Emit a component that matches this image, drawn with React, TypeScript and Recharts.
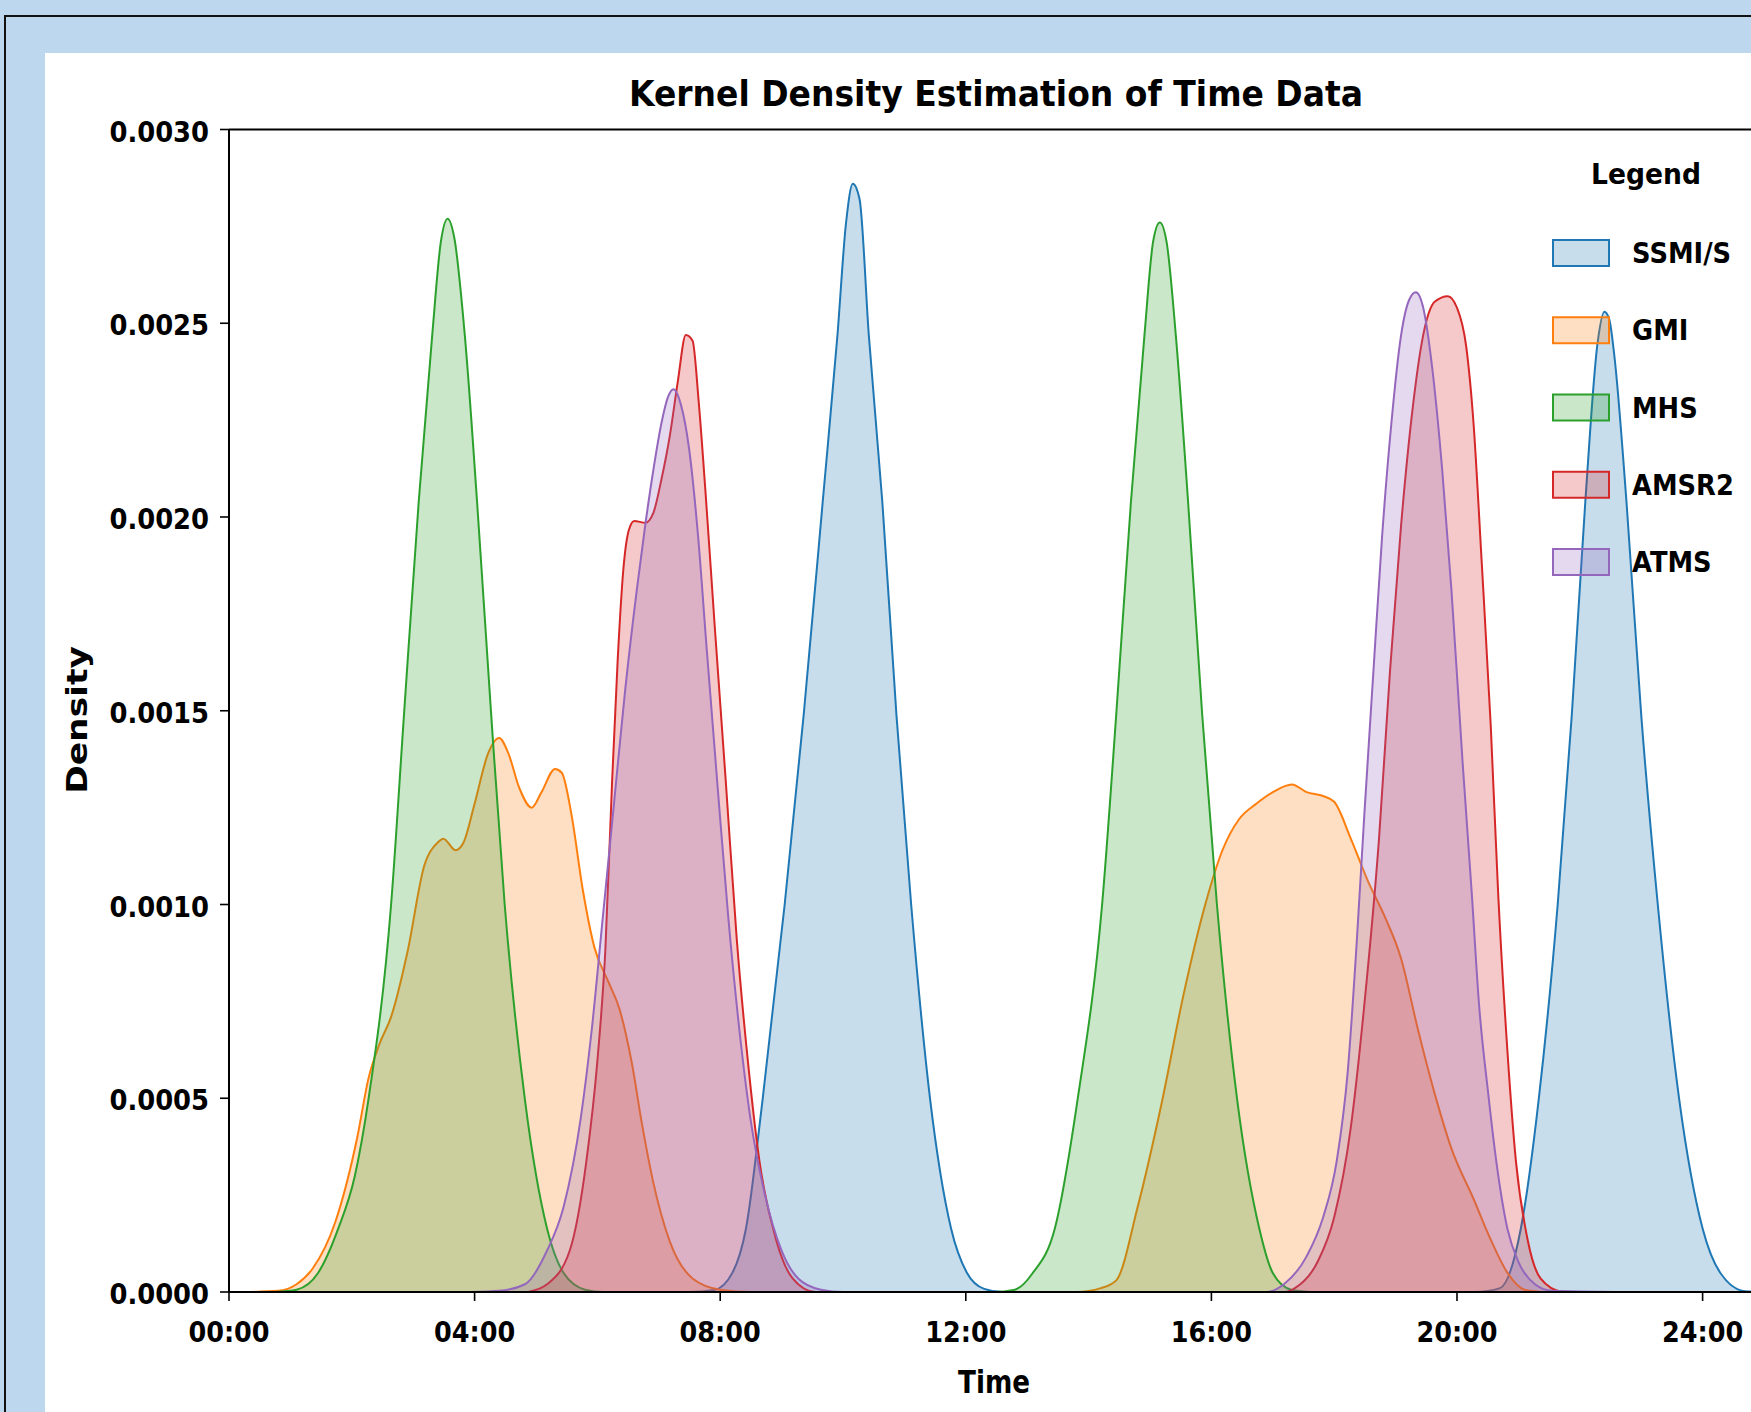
import { AreaChart, Area, XAxis, YAxis, ReferenceLine } from 'recharts';

const FONT = '"DejaVu Sans", Verdana, sans-serif';

const seriesNames = ['SSMI/S', 'GMI', 'MHS', 'AMSR2', 'ATMS'];
const seriesColors = ['#1f77b4', '#ff7f0e', '#2ca02c', '#d62728', '#9467bd'];

const hourTicks = [0, 4, 8, 12, 16, 20, 24];
const densityTicks = [0, 0.0005, 0.001, 0.0015, 0.002, 0.0025, 0.003];

// densities below are in units of 1e-4, x in hours of day
const ssmisHours = [0, 7.5, 7.9, 8.2, 8.42, 8.69, 9.05, 9.36, 9.67, 9.91, 10.05, 10.16, 10.27, 10.42, 10.64, 10.87, 11.11, 11.42, 11.76, 12.02, 12.3, 12.6,
  20.3, 20.7, 21.04, 21.33, 21.64, 21.87, 22.09, 22.29, 22.4, 22.48, 22.56, 22.76, 23.0, 23.27, 23.62, 24.0, 24.29, 24.69, 25];
const ssmisDensity = [0, 0, 0.05, 0.5, 1.64, 4.96, 10.0, 14.9, 20.4, 24.7, 27.6, 28.6, 28.2, 24.7, 20.4, 14.9, 10.0, 4.96, 1.64, 0.49, 0.08, 0,
  0, 0.1, 1.64, 4.96, 10.0, 14.9, 20.4, 24.5, 25.3, 25.1, 24.2, 20.4, 14.9, 10.0, 4.96, 1.64, 0.49, 0.02, 0];

const gmiHours = [0.35, 0.8, 1.1, 1.36, 1.73, 2.09, 2.27, 2.45, 2.64, 2.91, 3.18, 3.4, 3.49, 3.69, 3.82, 4.0, 4.22, 4.4, 4.55, 4.73, 4.93, 5.09, 5.31, 5.42, 5.58,
  5.76, 5.95, 6.18, 6.36, 6.55, 6.73, 6.9, 7.18, 7.55, 8.0, 8.5,
  13.8, 14.2, 14.45, 14.8, 15.18, 15.55, 15.9, 16.18, 16.45, 16.73, 17.0, 17.31, 17.55, 17.82, 18.0, 18.27, 18.55, 18.82, 19.09, 19.36, 19.64,
  19.91, 20.27, 20.55, 20.82, 21.1, 21.4];
const gmiDensity = [0, 0.03, 0.2, 0.6, 1.8, 4.0, 5.5, 6.4, 7.1, 8.8, 11.0, 11.6, 11.7, 11.4, 11.6, 12.6, 13.9, 14.3, 13.9, 13.0, 12.5, 12.9, 13.5, 13.4, 12.3,
  10.4, 8.9, 8.0, 7.3, 6.0, 4.3, 2.9, 1.3, 0.35, 0.06, 0,
  0, 0.1, 0.3, 2.2, 4.8, 7.7, 10.0, 11.4, 12.2, 12.6, 12.9, 13.1, 12.9, 12.8, 12.65, 11.7, 10.6, 9.7, 8.6, 6.8, 5.1,
  3.7, 2.4, 1.35, 0.5, 0.06, 0];

const mhsHours = [0.75, 1.1, 1.45, 1.78, 2.05, 2.27, 2.64, 2.85, 3.09, 3.31, 3.45, 3.56, 3.67, 3.84, 4.04, 4.27, 4.49, 4.82, 5.18, 5.45, 5.8, 6.1,
  12.45, 12.8, 13.09, 13.45, 13.82, 14.22, 14.45, 14.69, 14.91, 15.05, 15.16, 15.27, 15.42, 15.62, 15.85, 16.09, 16.42, 16.78, 17.0, 17.3, 17.6];
const mhsDensity = [0, 0.06, 0.49, 1.64, 3.0, 4.96, 10.0, 14.9, 20.4, 24.7, 27.1, 27.7, 27.2, 24.7, 20.4, 14.9, 10.0, 4.96, 1.64, 0.49, 0.06, 0,
  0, 0.06, 0.49, 1.64, 4.96, 10.0, 14.9, 20.4, 24.7, 27.1, 27.6, 27.1, 24.7, 20.4, 14.9, 10.0, 4.96, 1.64, 0.49, 0.06, 0];

const amsr2Hours = [4.87, 5.18, 5.55, 5.82, 6.0, 6.13, 6.24, 6.33, 6.42, 6.51, 6.6, 6.78, 6.91, 7.04, 7.18, 7.31, 7.44, 7.55, 7.65, 7.76, 7.91, 8.09, 8.27,
  8.45, 8.64, 8.91, 9.18, 9.55,
  17.2, 17.36, 17.73, 18.0, 18.27, 18.49, 18.73, 18.91, 19.09, 19.27, 19.45, 19.64, 19.85, 20.0, 20.15, 20.27, 20.4, 20.55, 20.67, 20.82, 20.96,
  21.15, 21.36, 21.7];
const amsr2Density = [0, 0.2, 1.07, 3.37, 5.97, 8.85, 13.2, 16.3, 18.6, 19.65, 19.9, 19.85, 20.1, 20.95, 22.1, 23.5, 24.7, 24.55, 22.97, 20.66, 17.2, 13.2, 9.1,
  5.97, 3.37, 1.35, 0.35, 0,
  0, 0.1, 0.78, 1.93, 4.24, 7.4, 11.7, 16.05, 19.8, 22.7, 24.7, 25.56, 25.7, 25.4, 24.4, 22.4, 18.9, 14.6, 10.3, 6.25, 3.37,
  1.35, 0.35, 0];

const atmsHours = [3.94, 4.4, 4.82, 5.18, 5.45, 5.73, 5.91, 6.09, 6.27, 6.45, 6.64, 6.78, 6.91, 7.04, 7.15, 7.24, 7.36, 7.49, 7.64, 7.78, 7.95, 8.13, 8.31,
  8.49, 8.73, 9.0, 9.27, 9.64, 10.0,
  16.9, 17.18, 17.55, 17.82, 18.04, 18.22, 18.36, 18.49, 18.64, 18.78, 18.93, 19.09, 19.22, 19.33, 19.45, 19.6, 19.76, 19.91, 20.09, 20.24,
  20.36, 20.51, 20.64, 20.82, 21.0, 21.27, 21.55, 22.6];
const atmsDensity = [0, 0.03, 0.2, 1.07, 2.2, 4.5, 6.8, 9.7, 12.6, 15.5, 18.1, 19.8, 21.2, 22.4, 23.1, 23.3, 22.9, 21.8, 19.5, 16.6, 13.2, 9.7, 6.8,
  4.5, 2.5, 1.07, 0.35, 0.06, 0,
  0, 0.2, 0.92, 1.93, 3.37, 5.68, 8.85, 12.3, 16.05, 19.5, 22.4, 24.7, 25.6, 25.8, 25.4, 23.8, 21.2, 18.1, 13.7, 10.3,
  7.4, 5.1, 3.37, 1.64, 0.78, 0.2, 0.03, 0];

const toPoints = (hours: number[], dens: number[]) => hours.map((h, i) => ({ h, d: dens[i] * 1e-4 }));

const seriesData = [
  toPoints(ssmisHours, ssmisDensity),
  toPoints(gmiHours, gmiDensity),
  toPoints(mhsHours, mhsDensity),
  toPoints(amsr2Hours, amsr2Density),
  toPoints(atmsHours, atmsDensity),
];

const fmtHour = (h: number) => `${String(h).padStart(2, '0')}:00`;

function HourTick({ x, y, payload }: any) {
  return (
    <text transform={`translate(${x},${y}) scale(0.88,1)`} textAnchor="middle" dy={39}
      fontSize={29} fontWeight="bold" fontFamily={FONT} fill="#000">
      {fmtHour(payload.value)}
    </text>
  );
}

function DensityTick({ x, y, payload }: any) {
  return (
    <text transform={`translate(${x},${y}) scale(0.89,1)`} textAnchor="end" dy={12}
      fontSize={29} fontWeight="bold" fontFamily={FONT} fill="#000">
      {Number(payload.value).toFixed(4)}
    </text>
  );
}

function Overlay() {
  const txt = { fontFamily: FONT, fontWeight: 'bold' as const, fill: '#000' };
  return (
    <svg width={1751} height={1412} style={{ position: 'absolute', left: 0, top: 0, pointerEvents: 'none' }}>
      <text transform="translate(996,106) scale(1,1.05)" textAnchor="middle" fontSize={33} {...txt}>Kernel Density Estimation of Time Data</text>
      <text transform="translate(994,1393) scale(0.82,1)" textAnchor="middle" fontSize={32} {...txt}>Time</text>
      <text transform="translate(87,720) rotate(-90) scale(1.23,1)" textAnchor="middle" fontSize={28} {...txt}>Density</text>
      <text transform="translate(1646,184) scale(0.95,1)" textAnchor="middle" fontSize={28} {...txt}>Legend</text>
      {seriesNames.map((name, i) => {
        const cy = 253 + i * 77.25;
        return (
          <g key={name}>
            <rect x={1553} y={cy - 13} width={56} height={26} fill={seriesColors[i]} fillOpacity={0.25}
              stroke={seriesColors[i]} strokeWidth={2} />
            <text transform={`translate(1632,${cy + 10}) scale(0.92,1)`} fontSize={28} {...txt}>{name}</text>
          </g>
        );
      })}
    </svg>
  );
}

export default function App() {
  return (
    <div style={{ position: 'fixed', left: 0, top: 0, width: 1751, height: 1412, overflow: 'hidden', background: '#bdd7ee' }}>
      <div style={{ position: 'absolute', left: 4, top: 15, width: 1800, height: 1500, borderLeft: '2.5px solid #111', borderTop: '2.5px solid #111' }} />
      <div style={{ position: 'absolute', left: 45, top: 53, width: 1800, height: 1500, background: '#fff' }} />
      <div style={{ position: 'absolute', left: 0, top: 0 }}>
        <AreaChart width={1800} height={1412} margin={{ top: 129.5, right: 36, bottom: 60, left: 129 }}>
          <XAxis type="number" dataKey="h" domain={[0, 25]} ticks={hourTicks} allowDataOverflow
            height={60} tickSize={9} tickMargin={2} tick={<HourTick />}
            axisLine={{ stroke: '#000', strokeWidth: 2 }} tickLine={{ stroke: '#000', strokeWidth: 1.6 }} />
          <YAxis type="number" domain={[0, 0.003]} ticks={densityTicks} allowDataOverflow
            width={100} tickSize={9} tickMargin={11} tick={<DensityTick />}
            axisLine={{ stroke: '#000', strokeWidth: 2 }} tickLine={{ stroke: '#000', strokeWidth: 1.6 }} />
          <ReferenceLine y={0.003} stroke="#000" strokeWidth={2} />
          {seriesNames.map((name, i) => (
            <Area key={name} name={name} data={seriesData[i]} dataKey="d" type="monotone"
              stroke={seriesColors[i]} strokeWidth={2} fill={seriesColors[i]} fillOpacity={0.25}
              dot={false} activeDot={false} isAnimationActive={false} />
          ))}
        </AreaChart>
      </div>
      <Overlay />
    </div>
  );
}
